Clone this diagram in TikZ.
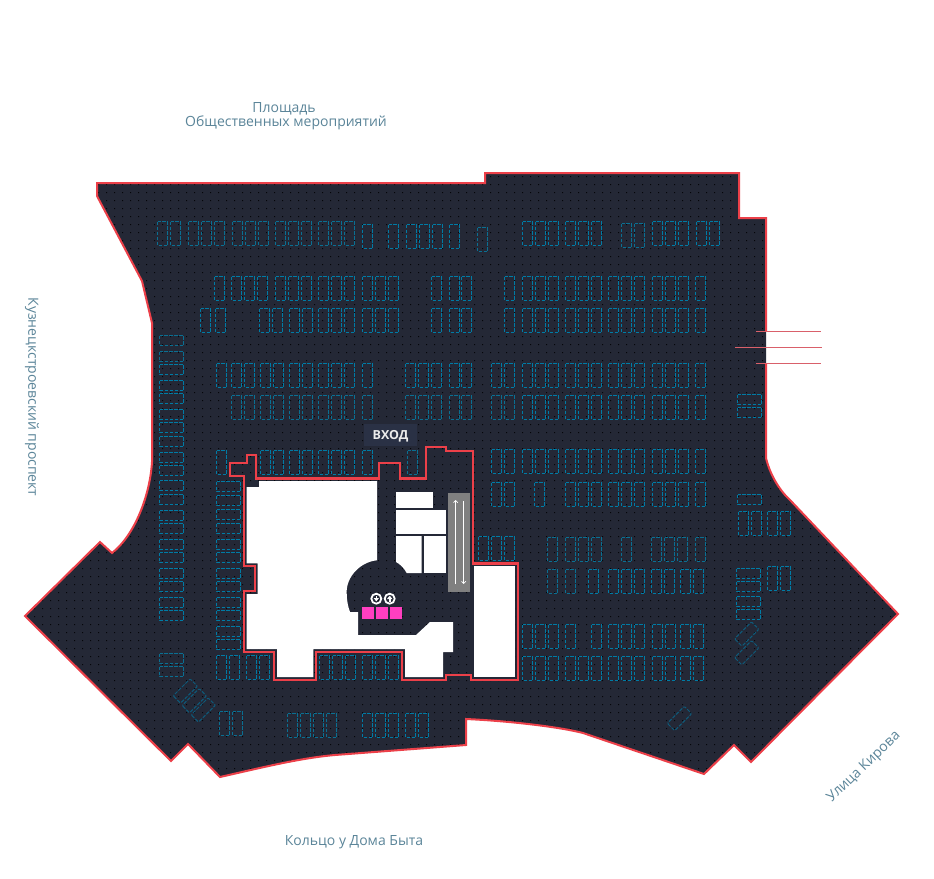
\documentclass[tikz,border=0pt]{standalone}
\usepackage{fontspec}
\setmainfont{Open Sans}
\usetikzlibrary{arrows.meta}
\definecolor{lotfill}{HTML}{242836}
\definecolor{dotc}{HTML}{05060A}
\definecolor{redline}{HTML}{EC4049}
\definecolor{stallc}{HTML}{007BA5}
\definecolor{stalld}{HTML}{0A6F92}
\definecolor{stalle}{HTML}{0E5A7A}
\definecolor{labelc}{HTML}{5B8599}
\definecolor{entryc}{HTML}{2A3145}
\definecolor{pinkc}{HTML}{FF3FC0}
\definecolor{greyc}{HTML}{808080}
\definecolor{sidec}{HTML}{D9606A}
\tikzset{
  stall/.style={draw=stallc,line width=1pt,dash pattern=on 3.6pt off 1.4pt},
  dimstall/.style={stall,draw=stalld},
  rotstall/.style={stall,draw=stalle,rounded corners=1pt},
  outerline/.style={draw=redline,line width=2pt,line join=miter},
  innerline/.style={draw=redline,line width=2.4pt,line join=miter},
  streetlabel/.style={text=labelc,font=\fontsize{14}{14}\selectfont,inner sep=0pt},
  sideline/.style={draw=sidec,line width=0.8pt},
  lift/.style={draw=white,line width=0.7pt,-{Straight Barb[length=2.2pt,width=4.4pt]}},
}
\newcommand{\vrow}[3][stall]{\foreach \xx in {#3}{\pgfmathsetmacro{\sx}{floor(\xx)+0.5}\pgfmathsetmacro{\sy}{floor(#2)+0.5}\path[#1] (\sx,\sy) rectangle ++(10,24);}}
\newcommand{\hcol}[3][stall]{\foreach \yy in {#3}{\pgfmathsetmacro{\sy}{floor(\yy)+0.5}\pgfmathsetmacro{\sx}{floor(#2)+0.5}\path[#1] (\sx,\sy) rectangle ++(24,10);}}
\newcommand{\rotstallat}[3]{\path[rotstall,shift={(#1,#2)},rotate=#3] (-12,-5.2) rectangle (12,5.2);}
\newcommand{\lotpath}{(766,363.5) -- (766,458) .. controls (770,475) and (780,491) .. (790,500) -- (898,614) -- (751,762) -- (734,745) -- (704,774) -- (583,733) .. controls (560,727) and (510,721) .. (466,719) -- (466,745) -- (335,755) .. controls (300,758) and (260,768) .. (220,777) -- (188,744) -- (171,761) -- (25,616) -- (100,542) -- (112,553) .. controls (135,535) and (150,495) .. (152,462) -- (152,323) -- (142,281) -- (97,196) -- (97,183) -- (485,183) -- (485,173) -- (739,173) -- (739,218) -- (766,218) -- (766,331)}
\begin{document}
\begin{tikzpicture}[x=1pt,y=-1pt]
\useasboundingbox (0,0) rectangle (934,878);
\fill[white] (0,0) rectangle (934,878);
% lot
\fill[lotfill] \lotpath -- cycle;
\begin{scope}
\clip \lotpath -- cycle;
\fill[dotc] \foreach \i in {0,...,109}{\foreach \j in {-2,0,...,76}{ (26+8*\i,176+8*\j) rectangle ++(1,1) }};
\fill[dotc] \foreach \i in {0,...,109}{\foreach \j in {-1,1,...,75}{ (26+8*\i,176+8*\j) rectangle ++(1,1) }};
\end{scope}
\path[outerline] \lotpath;
% side lines
\draw[sideline] (756,331) -- (821,331);
\draw[sideline] (735,347.5) -- (822,347.5);
\draw[sideline] (756,363.5) -- (821,363.5);
% stalls, vertical rows
\vrow[dimstall]{221.3}{157.3,170,188.3,201.3,214.3,232.3,245.3,258.3,275.3,288.3,301.3,318.3,331.3,344.3}
\vrow{224.3}{362.3,388.3,406,419,432,449}
\vrow[dimstall]{227.3}{477.3}
\vrow{221.3}{522.3,535.3,548.3,565.3,578.3,591.3,652.3,665.3,678.3,696.3,709.3}
\vrow[dimstall]{223.3}{621.3,634.3}
\vrow{276.3}{214.3,231.3,244.3,257.3,275.3,288.3,301.3,318.3,331.3,344.3,362.3,375.3,388.3,431.3,449.3,461.3,504.3,522.3,535.3,548.3,565.3,578.3,591.3,608.3,621.3,634.3,652.3,665.3,678.3,695.3}
\vrow{308.3}{200.3,215.3,259.3,272.3,289.3,302.3,318.3,331.3,344.3,362.3,375.3,388.3,431.3,449.3,461.3,504.3,522.3,535.3,548.3,565.3,578.3,591.3,608.3,621.3,634.3,652.3,665.3,678.3,695.3}
\vrow{363.3}{216.3,231.3,244.3,260.3,273.3,289.3,302.3,318.3,331.3,344.3,362.3,405,418,431,449.3,461.3,491.3,504.3,522.3,535.3,548.3,565.3,578.3,591.3,608.3,621.3,634.3,652.3,665.3,678.3,695.3}
\vrow[dimstall]{395.3}{231.3,244.3,260.3,273.3,289.3,302.3,318.3,331.3,344.3,362.3,405,418,431,449.3,461.3,491.3,504.3}
\vrow{395.3}{522.3,535.3,548.3,565.3,578.3,591.3,608.3,621.3,634.3,652.3,665.3,678.3,695.3}
\vrow{450.3}{216,260,273,289,302,318,331,344,362.3}
\vrow[dimstall]{450.3}{407}
\vrow{449.3}{491,504,522.3,535.3,548.3,565.3,578.3,591.3,608.3,621.3,634.3,652.3,665.3,678.3,695.3}
\vrow{482.3}{491,504,534.3,565.3,578.3,591.3,608.3,621.3,634.3,652.3,665.3,678.3,695.3}
\vrow{536.3}{478.3,491,504}
\vrow[dimstall]{537.3}{547.3,565.3,578.3,591.3,621.3,651.3,664.3,677.3,695.3}
\vrow[dimstall]{569.3}{547.3,565.3}
\vrow{569.3}{588.3,608.3,621.3,634.3,651.3,664.3,680.3,693.3}
\vrow{624.3}{522.3,535.3,548.3,565.3,591.3,608.3,621.3,634.3,652.3,665.3,680.3,693.3}
\vrow{656.3}{522.3,535.3,548.3,565.3,578.3,591.3,608.3,621.3,634.3,652.3,665.3,680.3,693.3}
\vrow{655.3}{216,229,246,259,319,332,345,362,375,388}
\vrow[dimstall]{711.3}{219,232}
\vrow[dimstall]{713.3}{287.3,300.3,313.3,326.3}
\vrow{713.3}{362.3,375.3,388.3,405.3,418.3}
\vrow{511.3}{738.3,751.3,767.3,780.3}
\vrow{566.3}{767.3,780.3}
% stalls, horizontal columns
\hcol[dimstall]{159.3}{335.3,351.3}
\hcol{159.3}{364.3,380.3,393.3,409.3,422.3,436.3,452.3,465.3,480.3,494.3,510.3,523.3,539.3,552.3,568.3,581.3,597.3,610.3}
\hcol[dimstall]{159.3}{653.3,666}
\hcol{216.3}{481.3,495.3,509.3,523.3,539.3,552.3,568.3,581.3,597.3,610.3,626.3,639.3}
\hcol{737.3}{394.3,407.3,494.3}
\hcol{736.3}{568.3,581.3,596.3,609.3}
% rotated stalls
\rotstallat{185.3}{691}{45}
\rotstallat{194.3}{700.7}{45}
\rotstallat{203.3}{710}{45}
\rotstallat{746.7}{634}{45}
\rotstallat{746.7}{652.7}{45}
\rotstallat{679.5}{718.5}{45}
% building: white shapes
\fill[white] (246.7,487) -- (259,487) -- (259,481) -- (377,481) -- (377,560.3) .. controls (360,562) and (346,577) .. (346.7,593) .. controls (346.7,600) and (348,607) .. (350,612) -- (358,612) -- (358,635) -- (416,635) -- (430,622) -- (453,622) -- (453,652) -- (443,652) -- (443,677) -- (405,677) -- (405,649) -- (313.3,649) -- (313.3,677) -- (277,677) -- (277,649) -- (246.7,649) -- (246.7,594) -- (257.7,594) -- (257.7,563.3) -- (246.7,563.3) -- cycle;
\fill[white] (396,492) rectangle (433,508);
\fill[white] (396,510) rectangle (446,534);
\fill[white] (396,536) -- (421.7,536) -- (421.7,573) -- (406.7,573) .. controls (404,568) and (400,564) .. (396,562) -- cycle;
\fill[white] (423.7,536) rectangle (446,573);
\fill[white] (474,566) rectangle (515.3,677);
% building: outline
\path[innerline] (230,462.7) -- (246.7,462.7) -- (246.7,455) -- (256,455) -- (256,478.3) -- (379,478.3) -- (379,462.7) -- (400,462.7) -- (400,478.3) -- (426,478.3) -- (426,447) -- (446,447) -- (446,451) -- (473,451) -- (473,563.3) -- (518,563.3) -- (518,680) -- (471,680) -- (471,675) -- (446,675) -- (446,680) -- (402,680) -- (402,651.7) -- (316,651.7) -- (316,680) -- (274,680) -- (274,651.7) -- (244,651.7) -- (244,591) -- (255,591) -- (255,566) -- (244,566) -- (244,476) -- (230,476) -- cycle;
% escalator
\fill[greyc] (448,493) rectangle (470,592);
\draw[lift] (455.7,584) -- (455.7,500);
\draw[lift] (463.7,501) -- (463.7,584);
% pink squares
\fill[pinkc] (362,607) rectangle (374,619);
\fill[pinkc] (376,607) rectangle (388,619);
\fill[pinkc] (390,607) rectangle (402,619);
% lift rings
\draw[white,line width=1.8pt] (376.3,598.7) circle (5);
\draw[white,line width=1.8pt] (389.7,598.7) circle (5);
\fill[white] (375.5,595.5) rectangle (377.1,598.5);
\fill[white] (373.6,598) -- (379,598) -- (376.3,601.3) -- cycle;
\fill[white] (388.9,598.5) rectangle (390.5,601.7);
\fill[white] (387,599) -- (392.4,599) -- (389.7,595.7) -- cycle;
% labels
\node[fill=entryc,minimum width=53pt,minimum height=22pt,inner sep=0pt,text height=9.5pt,text depth=0pt,text=white!92!black,font=\fontsize{12.5}{12.5}\selectfont\bfseries] (vhod) at (390.5,435) {ВХОД};
\node[streetlabel] (plosh) at (284,109) {Площадь};
\node[streetlabel] (obsh) at (286,123) {Общественных мероприятий};
\node[streetlabel,rotate=-90] (kuzn) at (32,397) {Кузнецкстроевский проспект};
\node[streetlabel] (kolco) at (354,842) {Кольцо у Дома Быта};
\node[streetlabel,rotate=44] (kirova) at (864,767) {Улица Кирова};
\end{tikzpicture}
\end{document}
